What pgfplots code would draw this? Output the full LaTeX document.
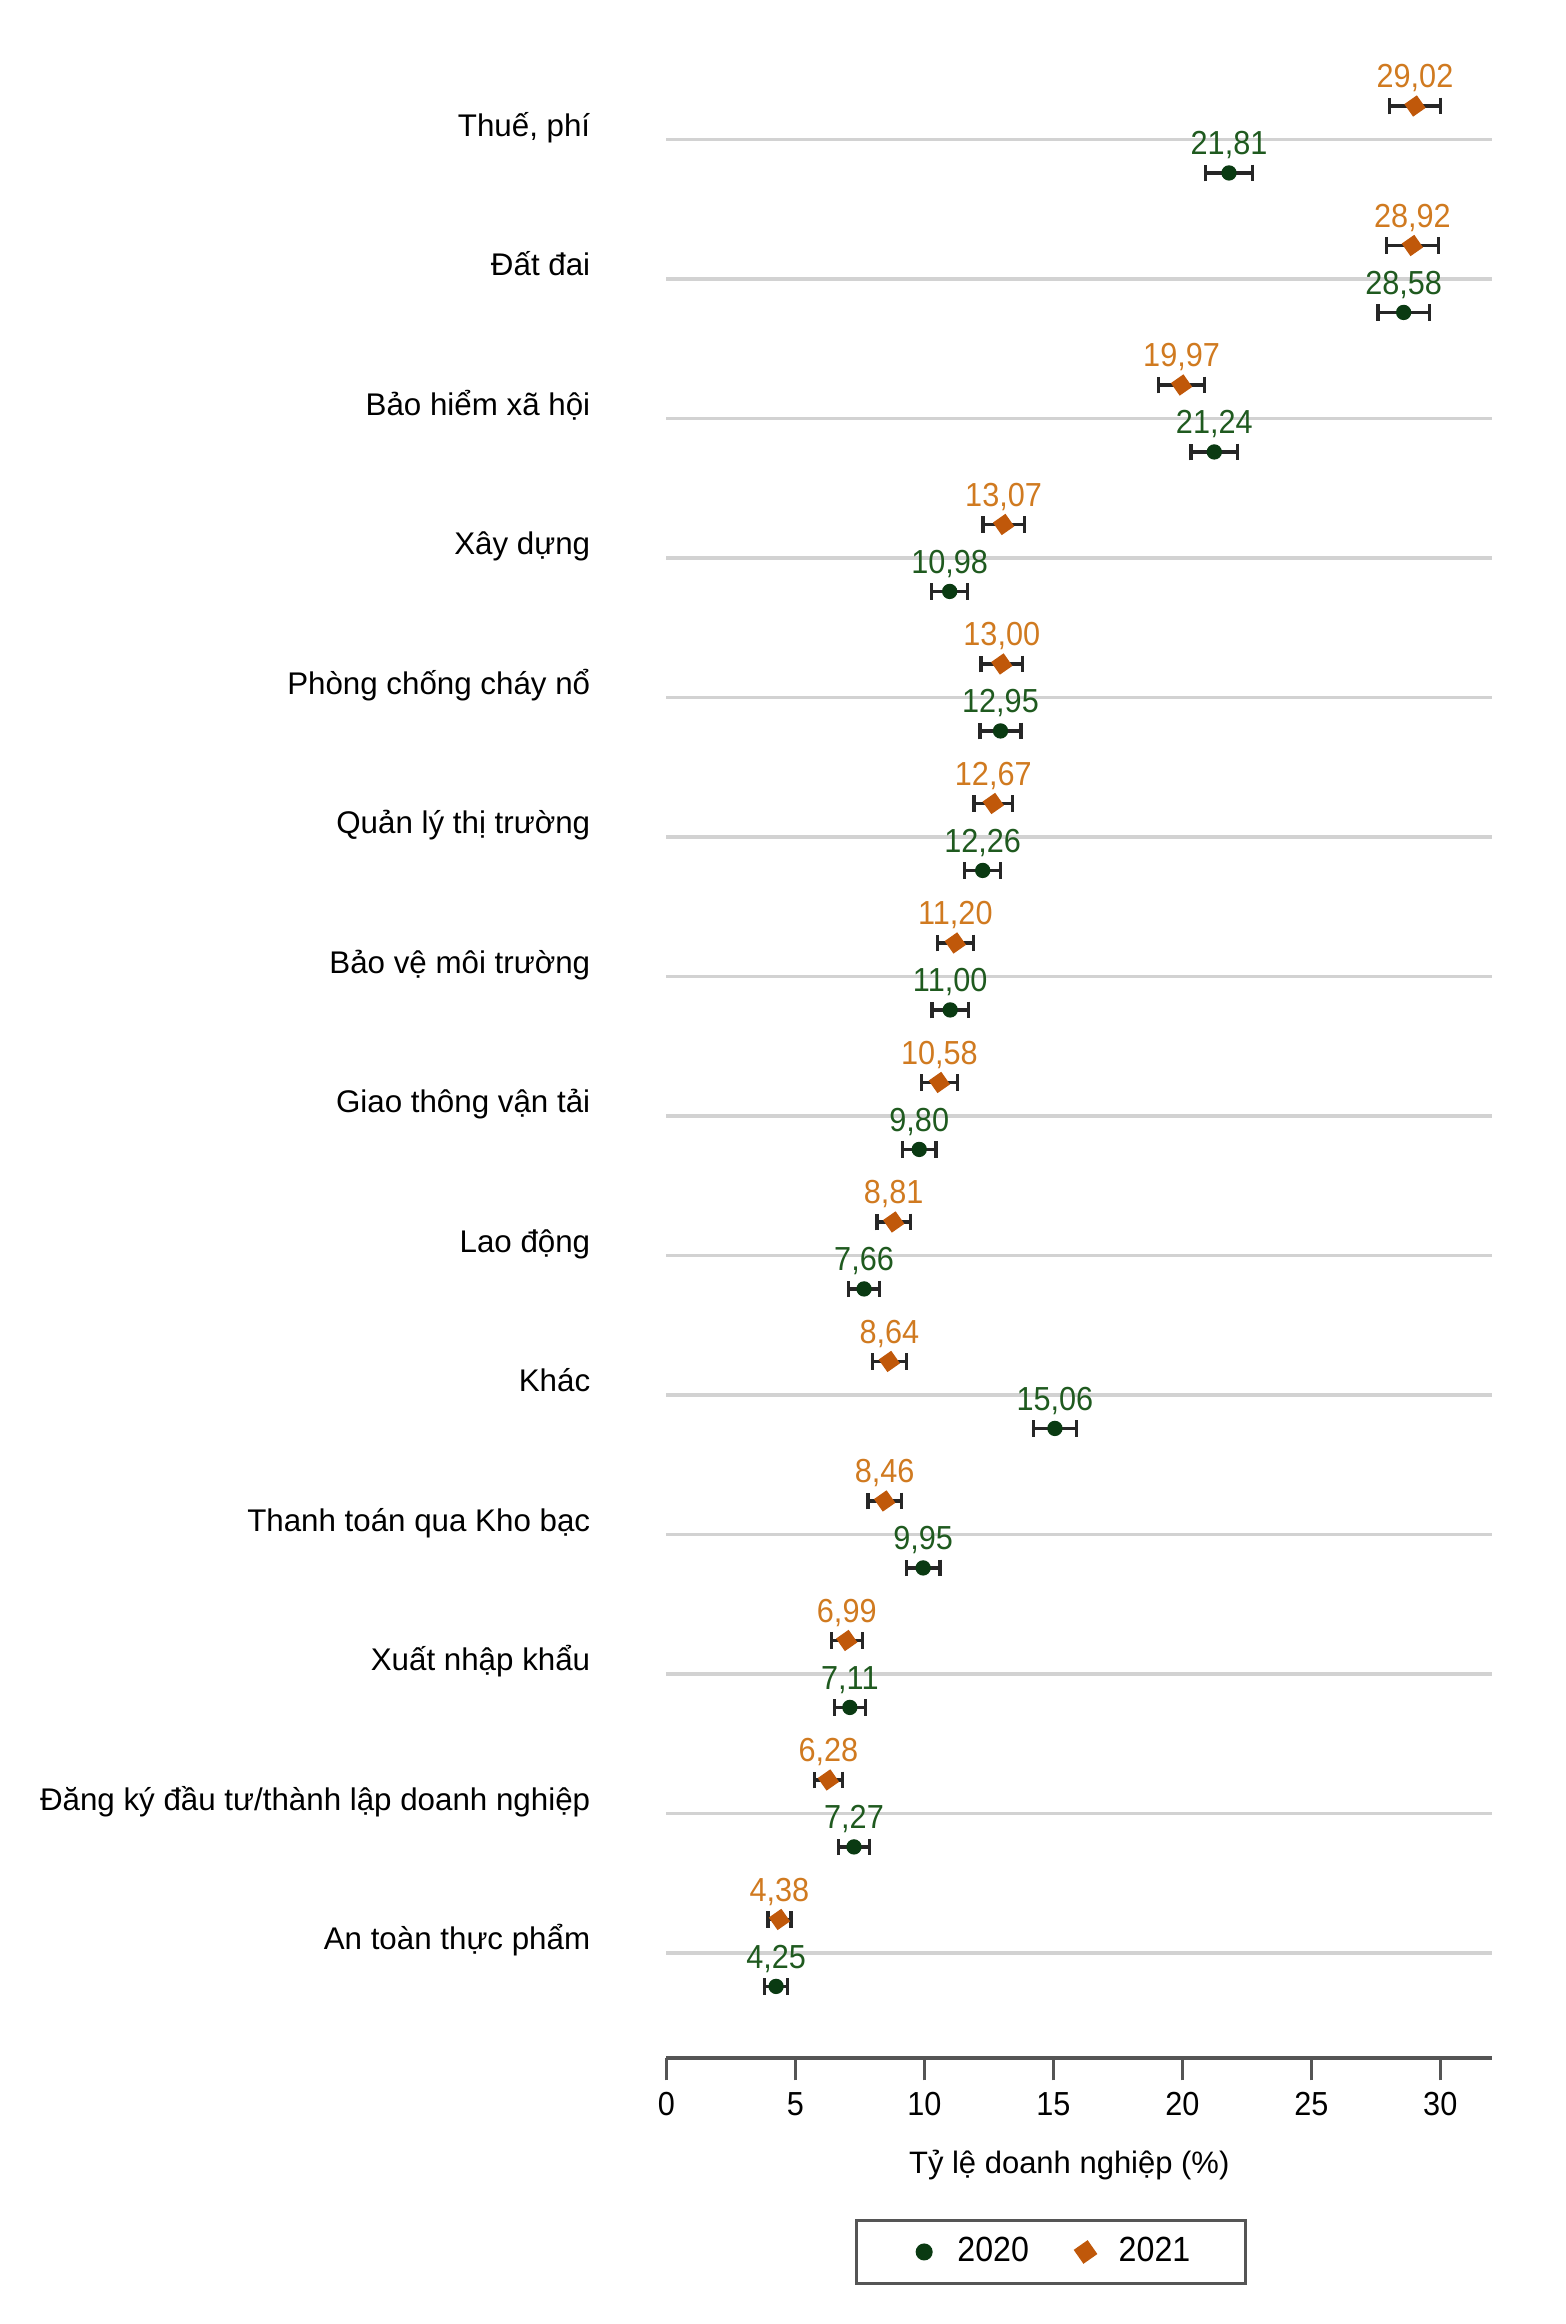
\documentclass[border=0pt]{standalone}
\usepackage{fontspec}
\setmainfont{Liberation Sans}
\newfontfamily\numfont{Liberation Sans}[FakeStretch=0.92]
\usepackage{pgfplots}
\pgfplotsset{compat=1.18}
\usepackage{pgfplotstable}

\definecolor{cA}{HTML}{0A3A12}
\definecolor{cAtext}{HTML}{1F5A1F}
\definecolor{cB}{HTML}{C0580A}
\definecolor{cBtext}{HTML}{D07A20}
\definecolor{axisgray}{HTML}{555555}
\definecolor{gridgray}{HTML}{D2D2D2}

% 2020
\pgfplotstableread{
x y e
21.81 -0.24 0.9
28.58 -1.24 1.0
21.24 -2.24 0.9
10.98 -3.24 0.7
12.95 -4.24 0.8
12.26 -5.24 0.7
11.00 -6.24 0.7
9.80 -7.24 0.65
7.66 -8.24 0.6
15.06 -9.24 0.83
9.95 -10.24 0.65
7.11 -11.24 0.6
7.27 -12.24 0.6
4.25 -13.24 0.45
}\dataA

% 2021
\pgfplotstableread{
x y e
29.02 0.24 1.0
28.92 -0.76 1.0
19.97 -1.76 0.9
13.07 -2.76 0.8
13.00 -3.76 0.8
12.67 -4.76 0.75
11.20 -5.76 0.7
10.58 -6.76 0.7
8.81 -7.76 0.65
8.64 -8.76 0.66
8.46 -9.76 0.65
6.99 -10.76 0.6
6.28 -11.76 0.55
4.38 -12.76 0.45
}\dataB

\begin{document}
\begin{tikzpicture}
\begin{axis}[
  scale only axis,
  width=247.8pt, height=617.9pt,
  xmin=0, xmax=32, ymin=-13.754, ymax=1,
  clip=false,
  /pgf/number format/assume math mode=true,
  axis x line*=bottom,
  axis y line*=left,
  y axis line style={draw=none},
  x axis line style={axisgray, line width=1pt},
  xtick={0,5,10,15,20,25,30},
  tick align=outside,
  major tick length=6.7pt,
  xtick style={axisgray, line width=1pt},
  ytick style={draw=none},
  xticklabel style={font=\numfont\fontsize{10}{12}\selectfont, text=black},
  ytick={0,-1,-2,-3,-4,-5,-6,-7,-8,-9,-10,-11,-12,-13},
  yticklabels={{Thuế, phí},{Đất đai},{Bảo hiểm xã hội},{Xây dựng},{Phòng chống cháy nổ},{Quản lý thị trường},{Bảo vệ môi trường},{Giao thông vận tải},{Lao động},{Khác},{Thanh toán qua Kho bạc},{Xuất nhập khẩu},{Đăng ký đầu tư/thành lập doanh nghiệp},{An toàn thực phẩm}},
  yticklabel style={font=\fontsize{9.4}{11}\selectfont, anchor=base east, inner sep=0pt, xshift=-16pt, yshift=1pt},
  ymajorgrids,
  grid style={gridgray, line width=1pt},
  xlabel={Tỷ lệ doanh nghiệp (\%)},
  xlabel style={at={(rel axis cs:0.488,0)}, anchor=base, yshift=-34.5pt, font=\fontsize{9.3}{11}\selectfont},
  legend columns=2,
  legend image code/.code={\draw[#1, draw=none] plot coordinates {(0cm,0cm)}; \path[draw=none] (-0.2cm,0cm) -- (0.28cm,0cm);},
  legend style={at={(rel axis cs:0.466,-0.0942)}, anchor=center, draw=axisgray, line width=0.9pt,
    font=\numfont\fontsize{10.5}{13}\selectfont, inner xsep=14.5pt, inner ysep=3pt,
    /tikz/every even column/.append style={column sep=9.3pt}},
  error bars/error bar style={line width=1pt, black!85},
  error bars/error mark options={line width=1pt, mark size=2.5pt, black!85, rotate=90},
]
\addplot[only marks, mark=*, mark size=2.1pt, color=cA,
  error bars/.cd, x dir=both, x explicit,
  /pgfplots/.cd,
  nodes near coords, point meta=x,
  every node near coord/.append style={font=\numfont\fontsize{10}{12}\selectfont, text=cAtext, anchor=base, yshift=5.5pt, inner sep=0pt, /pgf/number format/.cd, fixed, fixed zerofill, precision=2, use comma},
] table[x=x, y=y, x error=e] {\dataA};
\addlegendentry{2020}
\addplot[only marks, mark=square*, mark size=2.1pt, mark options={rotate=35}, color=cB,
  error bars/.cd, x dir=both, x explicit,
  /pgfplots/.cd,
  nodes near coords, point meta=x,
  every node near coord/.append style={font=\numfont\fontsize{10}{12}\selectfont, text=cBtext, anchor=base, yshift=5.5pt, inner sep=0pt, /pgf/number format/.cd, fixed, fixed zerofill, precision=2, use comma},
] table[x=x, y=y, x error=e] {\dataB};
\addlegendentry{2021}
\path (rel axis cs:-0.8075,1) rectangle (rel axis cs:1.0896,-0.1292);
\end{axis}
\end{tikzpicture}
\end{document}
